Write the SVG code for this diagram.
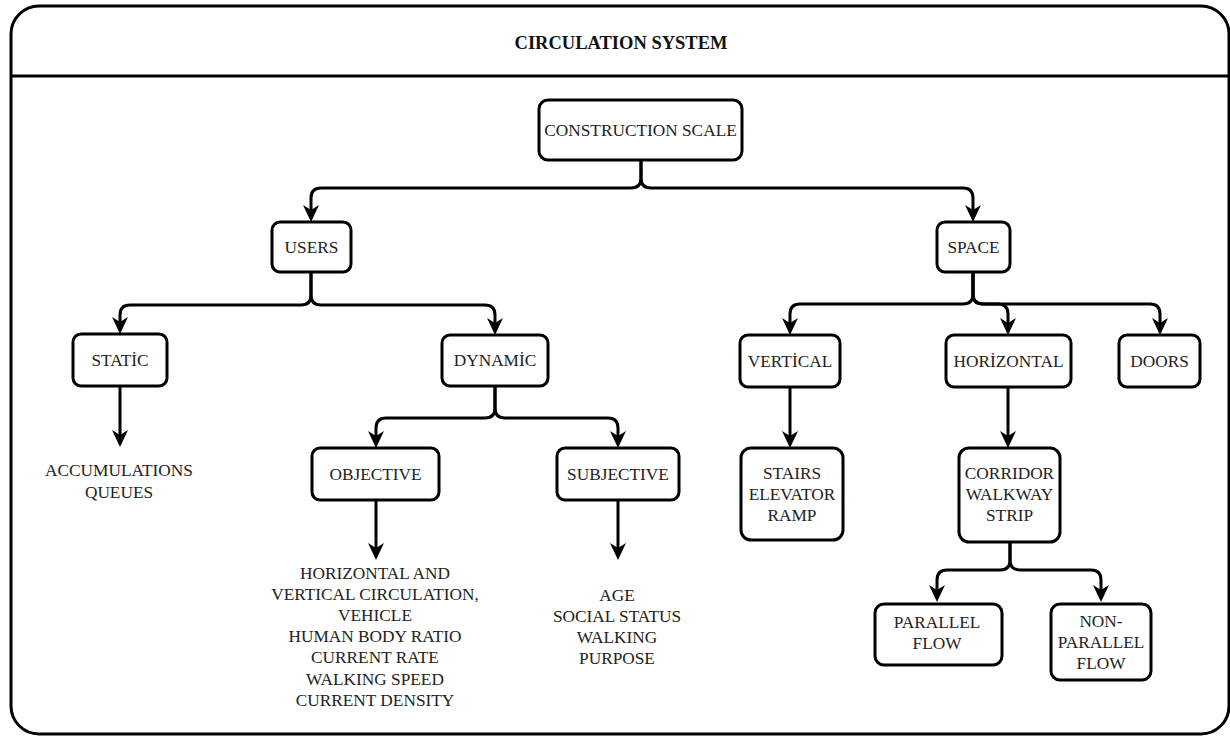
<svg xmlns="http://www.w3.org/2000/svg" width="1230" height="736" viewBox="0 0 1230 736" font-family="Liberation Serif, serif">
<style>
.frame{fill:#fff;stroke:#000;stroke-width:3}
.node rect{fill:#fff;stroke:#000;stroke-width:3}
text{font-family:'Liberation Serif','Times New Roman',serif;font-size:17.3px;fill:#222;text-anchor:middle}
.title{font-weight:bold;font-size:18.5px;fill:#111}
#connectors path{fill:none;stroke:#000;stroke-width:3;marker-end:url(#arr)}
</style>
<defs>
<marker id="arr" viewBox="0 0 17 16" markerWidth="17" markerHeight="16" refX="7" refY="8" orient="auto" markerUnits="userSpaceOnUse">
<path d="M0,0 L17,8 L0,16 L5,8 Z" fill="#000"/>
</marker>
</defs>
<g id="container">
<rect class="frame" x="11" y="6" width="1218" height="728" rx="28" ry="28"/>
<line x1="11" y1="76" x2="1229" y2="76" stroke="#000" stroke-width="3"/>
<text class="title" x="621" y="49">CIRCULATION SYSTEM</text>
</g>
<g id="connectors">
<path d="M641,160 V178 Q641,188 631,188 H321 Q311,188 311,198 V212"/>
<path d="M641,160 V178 Q641,188 651,188 H963 Q973,188 973,198 V212"/>
<path d="M311,272 V295 Q311,305 301,305 H130 Q120,305 120,315 V324"/>
<path d="M311,272 V295 Q311,305 321,305 H485 Q495,305 495,315 V325"/>
<path d="M120,386 V437"/>
<path d="M495,386 V408 Q495,418 485,418 H386 Q376,418 376,428 V438"/>
<path d="M495,386 V408 Q495,418 505,418 H608 Q618,418 618,428 V438"/>
<path d="M376,500 V550"/>
<path d="M618,500 V550"/>
<path d="M973,272 V294 Q973,304 963,304 H800 Q790,304 790,314 V325"/>
<path d="M973,272 V294 Q973,304 983,304 H998 Q1008,304 1008,314 V325"/>
<path d="M973,272 V294 Q973,304 983,304 H1150 Q1160,304 1160,314 V325"/>
<path d="M790,387 V438"/>
<path d="M1008,387 V438"/>
<path d="M1010,542 V560 Q1010,570 1000,570 H947 Q937,570 937,580 V592"/>
<path d="M1010,542 V560 Q1010,570 1020,570 H1091 Q1101,570 1101,580 V592"/>
</g>
<g id="n-construction" class="node"><rect x="539" y="100" width="203" height="60" rx="9"/><text x="640.5" y="136">CONSTRUCTION SCALE</text></g>
<g id="n-users" class="node"><rect x="272" y="222" width="79" height="50" rx="8"/><text x="311.5" y="253">USERS</text></g>
<g id="n-space" class="node"><rect x="937" y="222" width="73" height="50" rx="8"/><text x="973.5" y="253">SPACE</text></g>
<g id="n-static" class="node"><rect x="73" y="334" width="94" height="52" rx="8"/><text x="120" y="366">STATİC</text></g>
<g id="n-dynamic" class="node"><rect x="442" y="335" width="106" height="51" rx="8"/><text x="495" y="366">DYNAMİC</text></g>
<g id="n-accum"><text x="119" y="476">ACCUMULATIONS</text><text x="119" y="498">QUEUES</text></g>
<g id="n-objective" class="node"><rect x="312" y="448" width="127" height="52" rx="8"/><text x="375.5" y="480">OBJECTIVE</text></g>
<g id="n-subjective" class="node"><rect x="557" y="448" width="122" height="52" rx="8"/><text x="618" y="480">SUBJECTIVE</text></g>
<g id="n-objective-items">
<text x="375" y="579">HORIZONTAL AND</text>
<text x="375" y="600.1">VERTICAL CIRCULATION,</text>
<text x="375" y="621.2">VEHICLE</text>
<text x="375" y="642.3">HUMAN BODY RATIO</text>
<text x="375" y="663.4">CURRENT RATE</text>
<text x="375" y="684.5">WALKING SPEED</text>
<text x="375" y="705.6">CURRENT DENSITY</text>
</g>
<g id="n-subjective-items">
<text x="617" y="601">AGE</text>
<text x="617" y="622">SOCIAL STATUS</text>
<text x="617" y="643">WALKING</text>
<text x="617" y="664">PURPOSE</text>
</g>
<g id="n-vertical" class="node"><rect x="740" y="335" width="100" height="52" rx="8"/><text x="790" y="367">VERTİCAL</text></g>
<g id="n-horizontal" class="node"><rect x="946" y="335" width="125" height="52" rx="8"/><text x="1008.5" y="367">HORİZONTAL</text></g>
<g id="n-doors" class="node"><rect x="1119" y="335" width="81" height="52" rx="8"/><text x="1159.5" y="367">DOORS</text></g>
<g id="n-stairs" class="node"><rect x="741" y="448" width="102" height="92" rx="10"/><text x="792" y="478.5">STAIRS</text><text x="792" y="499.5">ELEVATOR</text><text x="792" y="520.5">RAMP</text></g>
<g id="n-corridor" class="node"><rect x="959" y="448" width="101" height="94" rx="10"/><text x="1009.5" y="478.5">CORRIDOR</text><text x="1009.5" y="499.5">WALKWAY</text><text x="1009.5" y="520.5">STRIP</text></g>
<g id="n-parallel" class="node"><rect x="875" y="604" width="127" height="61" rx="9"/><text x="937" y="628">PARALLEL</text><text x="937" y="649">FLOW</text></g>
<g id="n-nonparallel" class="node"><rect x="1051" y="604" width="100" height="76" rx="9"/><text x="1101" y="627">NON-</text><text x="1101" y="648">PARALLEL</text><text x="1101" y="669">FLOW</text></g>
</svg>
